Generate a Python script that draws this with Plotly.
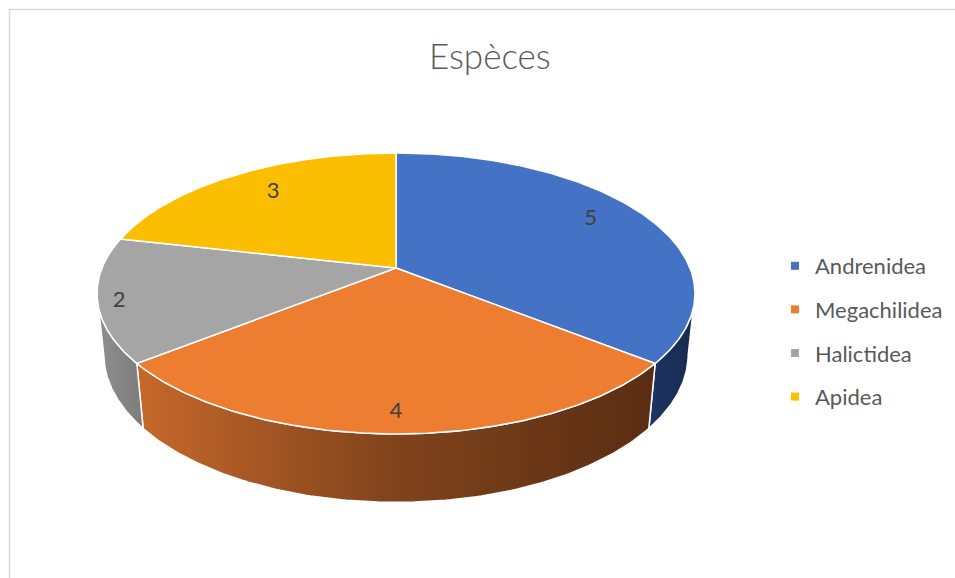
import numpy as np
import plotly.graph_objects as go

# Data
CATEGORIES = ["Andrenidea", "Megachilidea", "Halictidea", "Apidea"]
COUNTS = [5, 4, 2, 3]
TITLE = "Espèces"

# Styling
TOP_COLORS = ["#4472C4", "#ED7D31", "#A5A5A5", "#FBBE00"]
WALL_SCALES = [
    [[0, "#1d3563"], [1, "#172a4f"]],
    [[0, "#c6682b"], [0.5, "#80431c"], [1, "#5a2d12"]],
    [[0, "#909090"], [1, "#7c7c7c"]],
    [[0, "#c79600"], [1, "#8a6800"]],
]
LABEL_R = [0.78, 0.89, 0.93, 0.74]
LABEL_DY = [-5, 0, 4, -4]

W, H_PX = 955, 578
FONT = "Lato, Open Sans, sans-serif"

# Perspective view of a tilted disk (angles clockwise from 12 o'clock)
SIN_T, COS_T = 0.462, 0.887
DIST, FOCAL = 4.89, 1437.6
THICK = 0.235
CX, CY = 396.0, 268.0


def project(theta_deg, r=1.0, h=0.0):
    t = np.radians(np.asarray(theta_deg, dtype=float))
    X = r * np.sin(t)
    Z = r * np.cos(t)
    v = Z * SIN_T + h * COS_T
    w = DIST + Z * COS_T - h * SIN_T
    return CX + FOCAL * X / w, CY - FOCAL * v / w


total = float(sum(COUNTS))
bounds = np.concatenate([[0.0], np.cumsum(COUNTS) / total * 360.0])

# Silhouette of the side wall: extreme left/right points of the rim
theta_right = np.degrees(np.arccos(-COS_T / DIST))
theta_left = 360.0 - theta_right

fig = go.Figure()

# Side walls
for i, cat in enumerate(CATEGORIES):
    a = max(bounds[i], theta_right)
    b = min(bounds[i + 1], theta_left)
    if b <= a:
        continue
    th = np.linspace(a, b, 120)
    xt, yt = project(th, 1.0, 0.0)
    xb, yb = project(th[::-1], 1.0, -THICK)
    xs = np.concatenate([xt, xb, xt[:1]])
    ys = np.concatenate([yt, yb, yt[:1]])
    fig.add_trace(go.Scatter(
        x=xs, y=ys, mode="lines", fill="toself",
        fillgradient=dict(type="horizontal", colorscale=WALL_SCALES[i]),
        line=dict(color="white", width=1.5),
        hoverinfo="skip", showlegend=False,
    ))

# Top faces
for i, cat in enumerate(CATEGORIES):
    th = np.linspace(bounds[i], bounds[i + 1], 200)
    xa, ya = project(th, 1.0, 0.0)
    xs = np.concatenate([[CX], xa, [CX]])
    ys = np.concatenate([[CY], ya, [CY]])
    fig.add_trace(go.Scatter(
        x=xs, y=ys, mode="lines", fill="toself",
        fillcolor=TOP_COLORS[i],
        line=dict(color="white", width=1.5),
        name=cat, hoverinfo="name", showlegend=False,
    ))

# Value labels
mids = (bounds[:-1] + bounds[1:]) / 2.0
lx, ly = [], []
for i in range(len(CATEGORIES)):
    px, py = project(mids[i], LABEL_R[i], 0.0)
    lx.append(float(px))
    ly.append(float(py) + LABEL_DY[i])
fig.add_trace(go.Scatter(
    x=lx, y=ly, mode="text", text=[str(v) for v in COUNTS],
    textfont=dict(family=FONT, size=22, color="#404040"),
    hoverinfo="skip", showlegend=False,
))

# Legend entries
for i, cat in enumerate(CATEGORIES):
    fig.add_trace(go.Scatter(
        x=[None], y=[None], mode="markers", name=cat, legendgroup=cat,
        marker=dict(symbol="square", size=8, color=TOP_COLORS[i]),
    ))

fig.update_layout(
    width=W, height=H_PX,
    margin=dict(l=0, r=0, t=0, b=0),
    paper_bgcolor="white", plot_bgcolor="white",
    xaxis=dict(range=[0, W], visible=False, fixedrange=True),
    yaxis=dict(range=[H_PX, 0], visible=False, fixedrange=True),
    showlegend=True,
    legend=dict(
        x=775 / W, y=1 - 245 / H_PX, xanchor="left", yanchor="top",
        font=dict(family=FONT, size=22, color="#595959"),
        tracegroupgap=12, bgcolor="rgba(0,0,0,0)",
    ),
    annotations=[dict(
        text=TITLE, x=490 / W, y=1 - 55 / H_PX, xref="paper", yref="paper",
        xanchor="center", yanchor="middle", showarrow=False,
        font=dict(family=FONT, size=35, color="#595959", weight=300),
    )],
    shapes=[
        dict(type="line", xref="paper", yref="paper", x0=10 / W, x1=1, y0=1 - 9.5 / H_PX, y1=1 - 9.5 / H_PX,
             line=dict(color="#d9d9d9", width=1.5)),
        dict(type="line", xref="paper", yref="paper", x0=9.5 / W, x1=9.5 / W, y0=0, y1=1 - 9 / H_PX,
             line=dict(color="#d9d9d9", width=1.5)),
    ],
)

fig.write_html("out.html")
